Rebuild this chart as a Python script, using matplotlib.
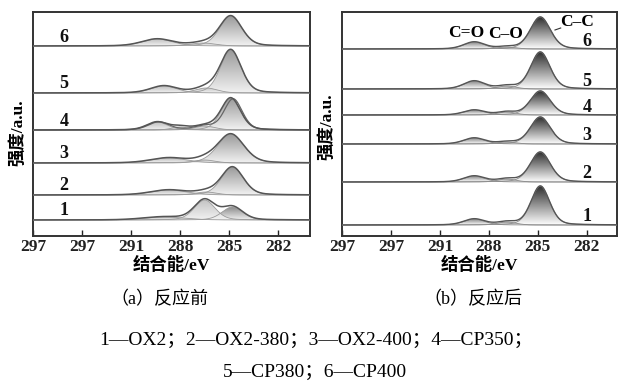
import numpy as np
import matplotlib.pyplot as plt
from matplotlib.path import Path
from matplotlib.patches import PathPatch
from matplotlib.colors import LinearSegmentedColormap

SERIF = ['Liberation Serif', 'Noto Sans CJK SC']

# x axis (binding energy, eV) - the original labels the 294 tick as "297"
ev_ticks = [297, 294, 291, 288, 285, 282]
ev_ticklabels = ['297', '297', '291', '288', '285', '282']
sample_ids = ['1', '2', '3', '4', '5', '6']

# fitted components: (centre eV, height a.u., FWHM eV)
# order: C-C, C-O, C=O (+ extra broad bits where visible)
before_peaks = {
    '1': [(284.8, 13, 1.5), (286.5, 20, 1.5), (289.0, 3, 3.0)],
    '2': [(284.8, 28, 1.6), (286.4, 3, 1.5), (288.7, 5, 2.6)],
    '3': [(284.9, 29, 1.9), (286.5, 3, 1.5), (288.7, 5, 2.6)],
    '4': [(284.9, 32, 1.4), (286.5, 4, 1.5), (289.4, 8, 1.5), (288.0, 3, 1.2)],
    '5': [(284.9, 43, 1.5), (286.4, 5, 1.6), (289.0, 7, 1.9)],
    '6': [(284.9, 30, 1.6), (286.6, 3, 1.8), (289.4, 7, 2.2)],
}
after_peaks = {
    '1': [(284.85, 39, 1.35), (286.9, 3, 1.3), (288.9, 6, 1.5)],
    '2': [(284.85, 30, 1.45), (286.9, 3, 1.3), (288.9, 6, 1.5)],
    '3': [(284.85, 27, 1.45), (286.9, 2, 1.3), (288.9, 6, 1.5)],
    '4': [(284.85, 24, 1.45), (286.9, 3, 1.3), (288.9, 5, 1.5)],
    '5': [(284.85, 37, 1.4), (286.9, 3, 1.3), (288.9, 8, 1.5)],
    '6': [(284.85, 32, 1.45), (286.9, 2, 1.3), (288.9, 7, 1.5)],
}
# second measured envelope overlaid on sample 4 (before)
before_overlay = {'4': [(284.75, 31, 1.3), (286.5, 4, 1.5), (289.3, 8, 1.5)]}

# vertical stacking offsets of each trace
before_offsets = [16, 41, 73, 106, 143, 190]
after_offsets = [11, 54, 92, 121, 147, 187]


def peak(x, c, h, w, eta=0.25):
    # pseudo-Voigt line shape
    s = w / 2.3548
    g = np.exp(-(x - c) ** 2 / (2 * s * s))
    lo = 1 / (1 + ((x - c) / (w / 2)) ** 2)
    return h * ((1 - eta) * g + eta * lo)


def grad_fill(ax, x, y, base, top_col, bot_col):
    m = y > 0.05
    if not m.any():
        return
    xs, ys = x[m], y[m]
    verts = np.concatenate([np.column_stack([xs, base + ys]),
                            np.column_stack([xs[::-1], np.full(len(xs), base)])])
    patch = PathPatch(Path(verts), fc='none', ec='none', transform=ax.transData)
    ax.add_patch(patch)
    cmap = LinearSegmentedColormap.from_list('g', [bot_col, top_col])
    g = np.linspace(0, 1, 256).reshape(-1, 1)
    im = ax.imshow(g, cmap=cmap, aspect='auto', origin='lower',
                   extent=[xs.min(), xs.max(), base, base + ys.max()],
                   interpolation='bilinear', zorder=2)
    im.set_clip_path(patch)


fig = plt.figure(figsize=(6.18, 3.91), dpi=100)
ax1 = fig.add_axes([33 / 618, 1 - 236 / 391, 277 / 618, 224 / 391])
ax2 = fig.add_axes([342 / 618, 1 - 236 / 391, 275 / 618, 224 / 391])

x = np.linspace(297, 280, 1200)

# (a) before
fills_a = ['#9a9a9a', '#c8c8c8', '#c0c0c0', '#c8c8c8']
for sid, off in zip(sample_ids, before_offsets):
    comps = before_peaks[sid]
    env = np.zeros_like(x)
    for i, (c, h, w) in enumerate(comps):
        y = peak(x, c, h, w)
        env += y
        if sid == '1':
            top = '#8c8c8c' if i == 0 else '#c4c4c4'
        else:
            top = fills_a[i]
        grad_fill(ax1, x, y, off, top, '#f2f2f2')
        ax1.plot(x, off + y, color='#9a9a9a', lw=0.6, zorder=3)
    if sid in before_overlay:
        env2 = sum(peak(x, c, h, w) for c, h, w in before_overlay[sid])
        ax1.plot(x, off + env2, color='#666666', lw=0.9, zorder=4)
    ax1.plot(x, off + env, color='#555555', lw=1.1, zorder=5)
    ax1.text(295.1, off + 9, sid, ha='center', va='center', fontsize=13,
             fontweight='bold', family=SERIF, color='#111111')

# (b) after
fills_b = ['#2e2e2e', '#b0b0b0', '#8a8a8a']
for sid, off in zip(sample_ids, after_offsets):
    comps = after_peaks[sid]
    env = np.zeros_like(x)
    for i, (c, h, w) in enumerate(comps):
        y = peak(x, c, h, w)
        env += y
        grad_fill(ax2, x, y, off, fills_b[i], '#ffffff')
        ax2.plot(x, off + y, color='#8a8a8a', lw=0.6, zorder=3)
    ax2.plot(x, off + env, color='#555555', lw=1.0, zorder=5)
    ax2.text(282.0, off + 8, sid, ha='center', va='center', fontsize=13,
             fontweight='bold', family=SERIF, color='#111111')

ax2.text(289.4, 203, 'C=O', ha='center', va='center', fontsize=12.5,
         fontweight='bold', family=SERIF)
ax2.text(287.0, 202, 'C\u2013O', ha='center', va='center', fontsize=12.5,
         fontweight='bold', family=SERIF)
ax2.text(282.6, 214, 'C\u2013C', ha='center', va='center', fontsize=12.5,
         fontweight='bold', family=SERIF)
ax2.plot([283.6, 283.95], [208, 206], color='#333333', lw=0.8)

for ax, xr in ((ax1, 280.05), (ax2, 280.15)):
    ax.set_xlim(297, xr)
    ax.set_ylim(0, 224)
    ax.set_xticks(ev_ticks)
    ax.set_xticklabels(ev_ticklabels, fontsize=12.5, fontweight='bold', family=SERIF)
    ax.set_yticks([])
    ax.tick_params(axis='x', direction='in', length=4, width=1.0, pad=2,
                   colors='#222222')
    for sp in ax.spines.values():
        sp.set_linewidth(1.4)
        sp.set_color('#333333')
    ax.text(0.5, -29 / 224, '结合能/eV', transform=ax.transAxes, ha='center',
            va='center', fontsize=12.5, fontweight='bold', family=SERIF)

for ax, w, yc in ((ax1, 277, 0.46), (ax2, 275, 0.49)):
    ax.set_ylabel('强度/a.u.', fontsize=12.5, fontweight='bold', family=SERIF,
                  va='center')
    ax.yaxis.set_label_coords(-15 / w, yc)

fig.text(159 / 618, 1 - 299 / 391, '（a）反应前', ha='center', va='center',
         fontsize=13, family=SERIF)
fig.text(473 / 618, 1 - 299 / 391, '（b）反应后', ha='center', va='center',
         fontsize=13, family=SERIF)
fig.text(316 / 618, 1 - 340 / 391, '1—OX2；2—OX2-380；3—OX2-400；4—CP350；',
         ha='center', va='center', fontsize=14, family=SERIF)
fig.text(315 / 618, 1 - 372 / 391, '5—CP380；6—CP400', ha='center',
         va='center', fontsize=14, family=SERIF)

fig.savefig('out.png', dpi=100)
